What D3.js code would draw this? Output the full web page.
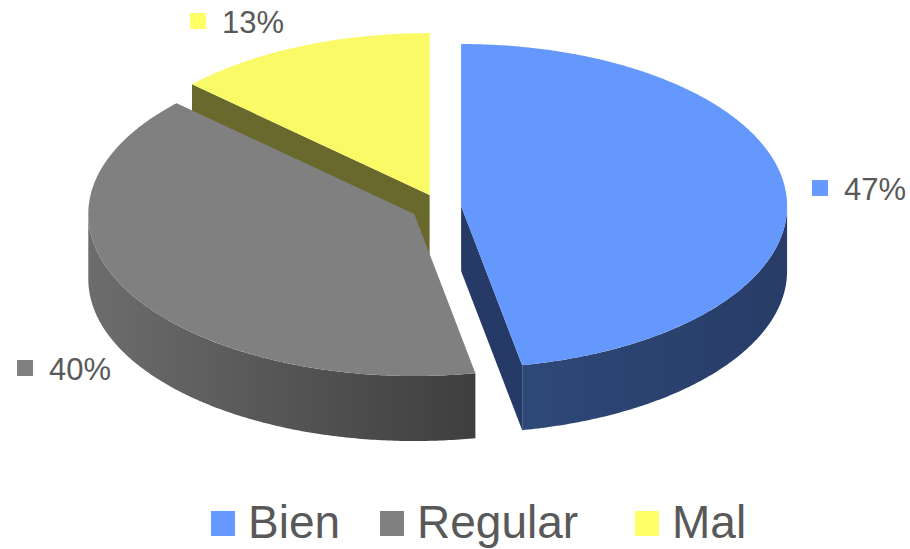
<!DOCTYPE html>
<html><head><meta charset="utf-8">
<script src="https://cdn.jsdelivr.net/npm/d3@7"></script>
<style>body{margin:0;background:#fff}svg{display:block}</style></head>
<body>
<svg id="c" width="910" height="549"></svg>
<script>
// ---- data ----
const categories = ["Bien", "Regular", "Mal"];
const values = [47, 40, 13];
const labelTexts = ["47%", "40%", "13%"];

// ---- styles / layout ----
const topColors = ["#6498FC", "#808080", "#FAFA66"];
const legendColors = ["#6699FF", "#808080", "#FFFF66"];
const radialColors = ["#263a68", "#3f3f3f", "#69692d"];
const sideGrad = [["#2e4878", "#283c67"], ["#6d6d6d", "#3e3e3e"], ["#69692d", "#5a5a26"]];
const explode = [0.065, 0.09, 0.08];
const base = {cx: 440, cy: 207, rx: 326, ry: 162, h: 65};
const textColor = "#595959";
const font = "Liberation Sans, Arial, sans-serif";

const svg = d3.select("#c");
const defs = svg.append("defs");

const arcs = d3.pie().sort(null).value(d => d).startAngle(0).endAngle(2 * Math.PI)(values);

function pt(c, a, dy = 0) {
  return [c[0] + base.rx * Math.sin(a), c[1] - base.ry * Math.cos(a) + dy];
}
function arcPts(c, a0, a1, dy = 0) {
  const n = Math.max(2, Math.ceil(Math.abs(a1 - a0) / 0.01));
  return d3.range(n + 1).map(i => pt(c, a0 + (a1 - a0) * i / n, dy));
}
const line = d3.line().curve(d3.curveLinearClosed);

const slices = arcs.map((a, i) => {
  const mid = (a.startAngle + a.endAngle) / 2;
  const c = [base.cx + explode[i] * base.rx * Math.sin(mid),
             base.cy - explode[i] * base.ry * Math.cos(mid)];
  return {i, a0: a.startAngle, a1: a.endAngle, mid, c};
});

const g = svg.append("g");
// back to front: Mal, Regular, Bien
[2, 1, 0].forEach(i => {
  const s = slices[i];
  const h = base.h;
  // radial faces (only those facing the viewer)
  [[s.a0, s.a0 - Math.PI / 2], [s.a1, s.a1 + Math.PI / 2]].forEach(([a, nrm]) => {
    if (Math.cos(nrm) < -1e-6) {
      const p = pt(s.c, a), q = pt(s.c, a, h);
      g.append("path")
        .attr("d", line([s.c, p, q, [s.c[0], s.c[1] + h]]))
        .attr("fill", radialColors[i]);
    }
  });
  // curved outer side (front half only)
  const s0 = Math.max(s.a0, Math.PI / 2), s1 = Math.min(s.a1, 3 * Math.PI / 2);
  if (s1 > s0) {
    const topP = arcPts(s.c, s0, s1, 0);
    const botP = arcPts(s.c, s1, s0, h);
    const xs = topP.map(p => p[0]);
    const gid = "sg" + i;
    const gr = defs.append("linearGradient").attr("id", gid)
      .attr("gradientUnits", "userSpaceOnUse")
      .attr("x1", d3.min(xs)).attr("x2", d3.max(xs)).attr("y1", 0).attr("y2", 0);
    gr.append("stop").attr("offset", 0).attr("stop-color", sideGrad[i][0]);
    gr.append("stop").attr("offset", 1).attr("stop-color", sideGrad[i][1]);
    g.append("path").attr("d", line(topP.concat(botP))).attr("fill", `url(#${gid})`);
  }
  // top face
  g.append("path")
    .attr("d", line([s.c].concat(arcPts(s.c, s.a0, s.a1, 0))))
    .attr("fill", topColors[i]);
});

// ---- data labels ----
const labelPos = [[812, 200], [17, 380], [190, 33]]; // marker left, text baseline
const lab = svg.append("g");
labelTexts.forEach((t, i) => {
  const [x, y] = labelPos[i];
  lab.append("rect").attr("x", x).attr("y", y - 20).attr("width", 16).attr("height", 16)
    .attr("fill", legendColors[i]);
  lab.append("text").attr("x", x + 32).attr("y", y).text(t)
    .attr("font-family", font).attr("font-size", 31).attr("fill", textColor);
});

// ---- legend ----
const legendX = [211, 380, 635];
const leg = svg.append("g");
categories.forEach((cat, i) => {
  leg.append("rect").attr("x", legendX[i]).attr("y", 511).attr("width", 24).attr("height", 25)
    .attr("fill", legendColors[i]);
  leg.append("text").attr("x", legendX[i] + 37).attr("y", 538).text(cat)
    .attr("font-family", font).attr("font-size", 46).attr("fill", textColor);
});
</script>
</body></html>
